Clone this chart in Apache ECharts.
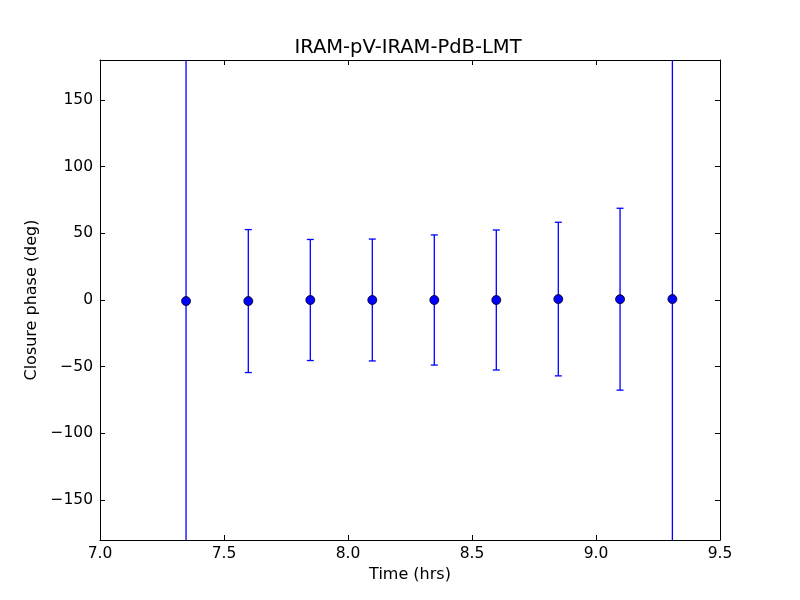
<!DOCTYPE html>
<html>
<head>
<meta charset="utf-8">
<script src="https://cdn.jsdelivr.net/npm/echarts@6/dist/echarts.min.js"></script>
<style>html,body{margin:0;padding:0;background:#fff}#c{width:800px;height:600px}</style>
</head>
<body>
<div id="c"></div>
<script>
const titleText = 'IRAM-pV-IRAM-PdB-LMT';
const xLabel = 'Time (hrs)';
const yLabel = 'Closure phase (deg)';
const times = [7.347, 7.598, 7.848, 8.098, 8.348, 8.598, 8.848, 9.097, 9.308];
const phases = [-0.8, -0.8, 0.0, 0.0, 0.0, 0.0, 0.7, 0.6, 0.7];
const errors = [300, 53.6, 45.4, 45.7, 48.8, 52.5, 57.6, 68.2, 300];
const yTicks = [-150, -100, -50, 0, 50, 100, 150];

const font = 'DejaVu Sans';
const fmtY = v => String(v).replace('-', '\u2212');
const fmtX = v => Number(v).toFixed(1);

const pts = times.map((t, i) => [t, phases[i], errors[i]]);

const chart = echarts.init(document.getElementById('c'), null, {renderer: 'canvas'});
const axisLine = {show: true, onZero: false, lineStyle: {color: '#000', width: 1}};
const tickIn = {show: true, inside: true, length: 5, lineStyle: {color: '#000', width: 1}};

chart.setOption({
  animation: false,
  backgroundColor: '#fff',
  graphic: [{
    type: 'text', x: 408, y: 48, z: 10,
    style: {text: titleText, textAlign: 'center', textVerticalAlign: 'middle',
            font: 'normal 19.5px "DejaVu Sans"', fill: '#000'}
  }],
  grid: {left: 100, right: 80, top: 60, bottom: 60, show: false},
  xAxis: [{
    type: 'value', min: 7, max: 9.5, interval: 0.5, position: 'bottom',
    axisLine: axisLine, axisTick: tickIn, splitLine: {show: false},
    axisLabel: {formatter: fmtX, fontFamily: font, fontSize: 15.5, color: '#000', margin: 6},
    name: xLabel, nameLocation: 'middle', nameGap: 24,
    nameTextStyle: {fontFamily: font, fontSize: 16, color: '#000'}
  }, {
    type: 'value', min: 7, max: 9.5, interval: 0.5, position: 'top',
    axisLine: axisLine, axisTick: tickIn, splitLine: {show: false},
    axisLabel: {show: false}
  }],
  yAxis: [{
    type: 'value', min: -180, max: 180, position: 'left',
    axisLine: axisLine,
    axisTick: Object.assign({customValues: yTicks}, tickIn),
    splitLine: {show: false},
    axisLabel: {customValues: yTicks, formatter: fmtY, fontFamily: font, fontSize: 15.5, color: '#000', margin: 7},
    name: yLabel, nameLocation: 'middle', nameGap: 53,
    nameTextStyle: {fontFamily: font, fontSize: 16, color: '#000'}
  }, {
    type: 'value', min: -180, max: 180, position: 'right',
    axisLine: axisLine,
    axisTick: Object.assign({customValues: yTicks}, tickIn),
    splitLine: {show: false},
    axisLabel: {show: false}
  }],
  series: [{
    type: 'custom',
    xAxisIndex: 0, yAxisIndex: 0,
    data: pts,
    z: 2,
    renderItem: function (params, api) {
      const x = api.value(0), y = api.value(1), e = api.value(2);
      const top = api.coord([x, y + e]);
      const bot = api.coord([x, y - e]);
      const cs = params.coordSys;
      const yMin = cs.y, yMax = cs.y + cs.height;
      const px = top[0];
      const style = {stroke: '#0000ff', lineWidth: 1.3};
      const children = [{
        type: 'line',
        shape: {x1: px, y1: Math.max(top[1], yMin), x2: px, y2: Math.min(bot[1], yMax)},
        style: style
      }];
      const cw = 3.5;
      if (top[1] >= yMin) children.push({type: 'line', shape: {x1: px - cw, y1: top[1], x2: px + cw, y2: top[1]}, style: style});
      if (bot[1] <= yMax) children.push({type: 'line', shape: {x1: px - cw, y1: bot[1], x2: px + cw, y2: bot[1]}, style: style});
      return {type: 'group', children: children};
    }
  }, {
    type: 'scatter',
    xAxisIndex: 0, yAxisIndex: 0,
    data: pts.map(p => [p[0], p[1]]),
    symbol: 'circle', symbolSize: 9, z: 3,
    itemStyle: {color: '#0000ff', borderColor: '#000', borderWidth: 0.8, opacity: 1}
  }]
});
</script>
</body>
</html>
